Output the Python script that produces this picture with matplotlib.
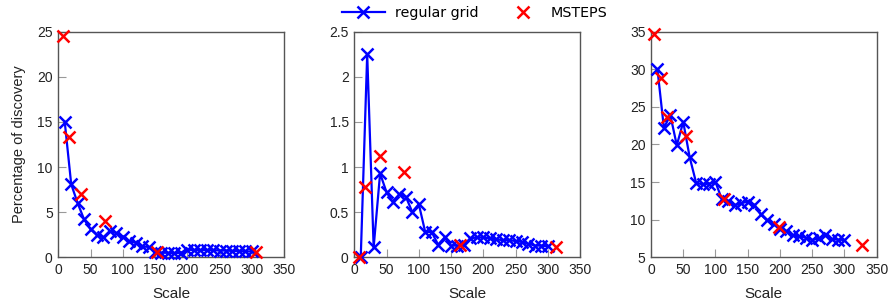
import matplotlib
matplotlib.use("Agg")
import matplotlib.pyplot as plt
from matplotlib.lines import Line2D

# ---- data ----
grid_scale = [10, 20, 30, 40, 50, 60, 70, 80, 90, 100, 110, 120, 130, 140, 150,
              160, 170, 180, 190, 200, 210, 220, 230, 240, 250, 260, 270, 280, 290, 300]

grid_p1 = [15.0, 8.1, 6.0, 4.2, 3.1, 2.5, 2.2, 2.9, 2.7, 2.3, 1.8, 1.6, 1.2, 1.15, 0.6,
           0.5, 0.5, 0.45, 0.5, 0.85, 0.8, 0.8, 0.8, 0.8, 0.75, 0.75, 0.7, 0.7, 0.65, 0.65]
grid_p2 = [0.0, 2.25, 0.11, 0.93, 0.72, 0.61, 0.70, 0.67, 0.50, 0.59, 0.28, 0.28, 0.14, 0.22, 0.13,
           0.13, 0.14, 0.21, 0.22, 0.22, 0.21, 0.20, 0.19, 0.19, 0.18, 0.17, 0.15, 0.13, 0.13, 0.12]
grid_p3 = [30.0, 22.2, 23.9, 19.9, 23.0, 18.3, 14.9, 14.7, 14.8, 15.0, 12.7, 12.5, 11.95, 12.2, 12.4,
           12.0, 10.7, 9.9, 9.4, 8.8, 8.5, 7.9, 7.8, 7.6, 7.3, 7.5, 8.0, 7.4, 7.35, 7.3]

msteps_x1 = [8, 16, 35, 72, 153, 307]
msteps_p1 = [24.5, 13.3, 7.0, 4.0, 0.6, 0.6]
msteps_x2 = [7, 16, 40, 77, 164, 313]
msteps_p2 = [0.0, 0.78, 1.12, 0.94, 0.14, 0.11]
msteps_x3 = [5, 16, 25, 55, 113, 199, 327]
msteps_p3 = [34.7, 28.8, 23.7, 21.1, 12.7, 9.0, 6.6]

xticks = [0, 50, 100, 150, 200, 250, 300, 350]
yticks1 = [0, 5, 10, 15, 20, 25]
yticks2 = [0, 0.5, 1, 1.5, 2, 2.5]
yticks3 = [5, 10, 15, 20, 25, 30, 35]
ylabels2 = ["0", "0.5", "1", "1.5", "2", "2.5"]

panels = [
    (grid_p1, msteps_x1, msteps_p1, yticks1, [str(t) for t in yticks1], (0, 25)),
    (grid_p2, msteps_x2, msteps_p2, yticks2, ylabels2, (0, 2.5)),
    (grid_p3, msteps_x3, msteps_p3, yticks3, [str(t) for t in yticks3], (5, 35)),
]

W, H = 889, 305
fig = plt.figure(figsize=(W / 100, H / 100), dpi=100)
lefts = [58.3, 354.3, 651.0]
aw, top, bottom = 225.7, 31.7, 257.3

for i, (gp, mx, mp, yt, yl, ylim) in enumerate(panels):
    ax = fig.add_axes([lefts[i] / W, (H - bottom) / H, aw / W, (bottom - top) / H])
    ax.plot(grid_scale, gp, color="#0000ff", lw=1.6, marker="x", ms=9, mew=1.8,
            clip_on=False, zorder=3)
    ax.plot(mx, mp, ls="none", color="#ff0000", marker="x", ms=9, mew=1.8,
            clip_on=False, zorder=4)
    ax.set_xlim(0, 350)
    ax.set_ylim(*ylim)
    ax.set_xticks(xticks)
    ax.set_yticks(yt)
    ax.set_yticklabels(yl)
    ax.tick_params(direction="in", length=6, width=0.8, color="#999999",
                   labelcolor="#222222", top=False, right=False, pad=4)
    for lab in ax.get_xticklabels() + ax.get_yticklabels():
        lab.set_fontfamily("Liberation Sans")
        lab.set_fontsize(10)
    for sp in ax.spines.values():
        sp.set_color("#555555")
        sp.set_linewidth(1.0)
    ax.set_xlabel("Scale", family="Liberation Sans", fontsize=11, color="#222222", labelpad=7)
    if i == 0:
        ax.set_ylabel("Percentage of discovery", family="Liberation Sans", fontsize=10.5,
                      color="#222222", labelpad=8)

h_grid = Line2D([], [], color="#0000ff", lw=1.6, marker="x", ms=9, mew=1.8)
h_ms = Line2D([], [], color="#ff0000", ls="none", marker="x", ms=9, mew=1.8)
leg_font = {"family": "DejaVu Sans", "size": 10.3}
leg1 = fig.legend([h_grid], ["regular grid"], loc="center left",
                  bbox_to_anchor=(342 / W, 1 - 13 / H), frameon=False, prop=leg_font,
                  handlelength=3.0, handletextpad=0.7, borderpad=0, borderaxespad=0)
leg2 = fig.legend([h_ms], ["MSTEPS"], loc="center left",
                  bbox_to_anchor=(512 / W, 1 - 13 / H), frameon=False, prop=leg_font,
                  handlelength=1.6, handletextpad=1.1, borderpad=0, borderaxespad=0)

fig.savefig("out.png", dpi=100)
